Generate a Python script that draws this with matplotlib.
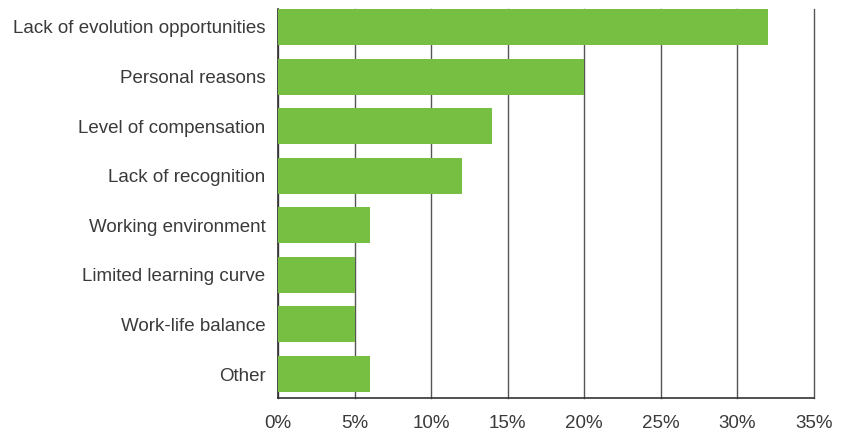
import matplotlib.pyplot as plt
from matplotlib.ticker import FuncFormatter

# Reasons for leaving and share of respondents (%)
reasons = ['Lack of evolution opportunities', 'Personal reasons',
           'Level of compensation', 'Lack of recognition',
           'Working environment', 'Limited learning curve',
           'Work-life balance', 'Other']
shares = [32, 20, 14, 12, 6, 5, 5, 6]
ticks = [0, 5, 10, 15, 20, 25, 30, 35]

plt.rcParams['font.family'] = ['Liberation Sans', 'DejaVu Sans']

fig = plt.figure(figsize=(8.5, 4.32), dpi=100)
ax = fig.add_axes([278 / 850, 34 / 432, 536 / 850, 389 / 432])

# Horizontal bars, first reason at the top
ax.barh(range(len(reasons)), shares, height=0.726, color='#77bf43', zorder=3)

ax.set_xlim(0, 35)
ax.set_ylim(7.484, -0.363)
ax.set_xticks(ticks)
ax.xaxis.set_major_formatter(FuncFormatter(lambda v, p: f'{v:.0f}%'))
ax.set_yticks(range(len(reasons)))
ax.set_yticklabels(reasons)

# Vertical gridlines behind the bars
ax.grid(axis='x', color='#555555', linewidth=1, zorder=0)
for line in ax.get_xgridlines():
    line.set_clip_on(False)
ax.tick_params(length=0, labelsize=13.5, colors='#3a3a3a')
ax.tick_params(axis='y', pad=9)
ax.tick_params(axis='x', pad=12)

for side in ['top', 'right']:
    ax.spines[side].set_visible(False)
for side in ['left', 'bottom']:
    ax.spines[side].set_color('#333333')
    ax.spines[side].set_linewidth(1.2)

fig.savefig('out.png', dpi=100)
